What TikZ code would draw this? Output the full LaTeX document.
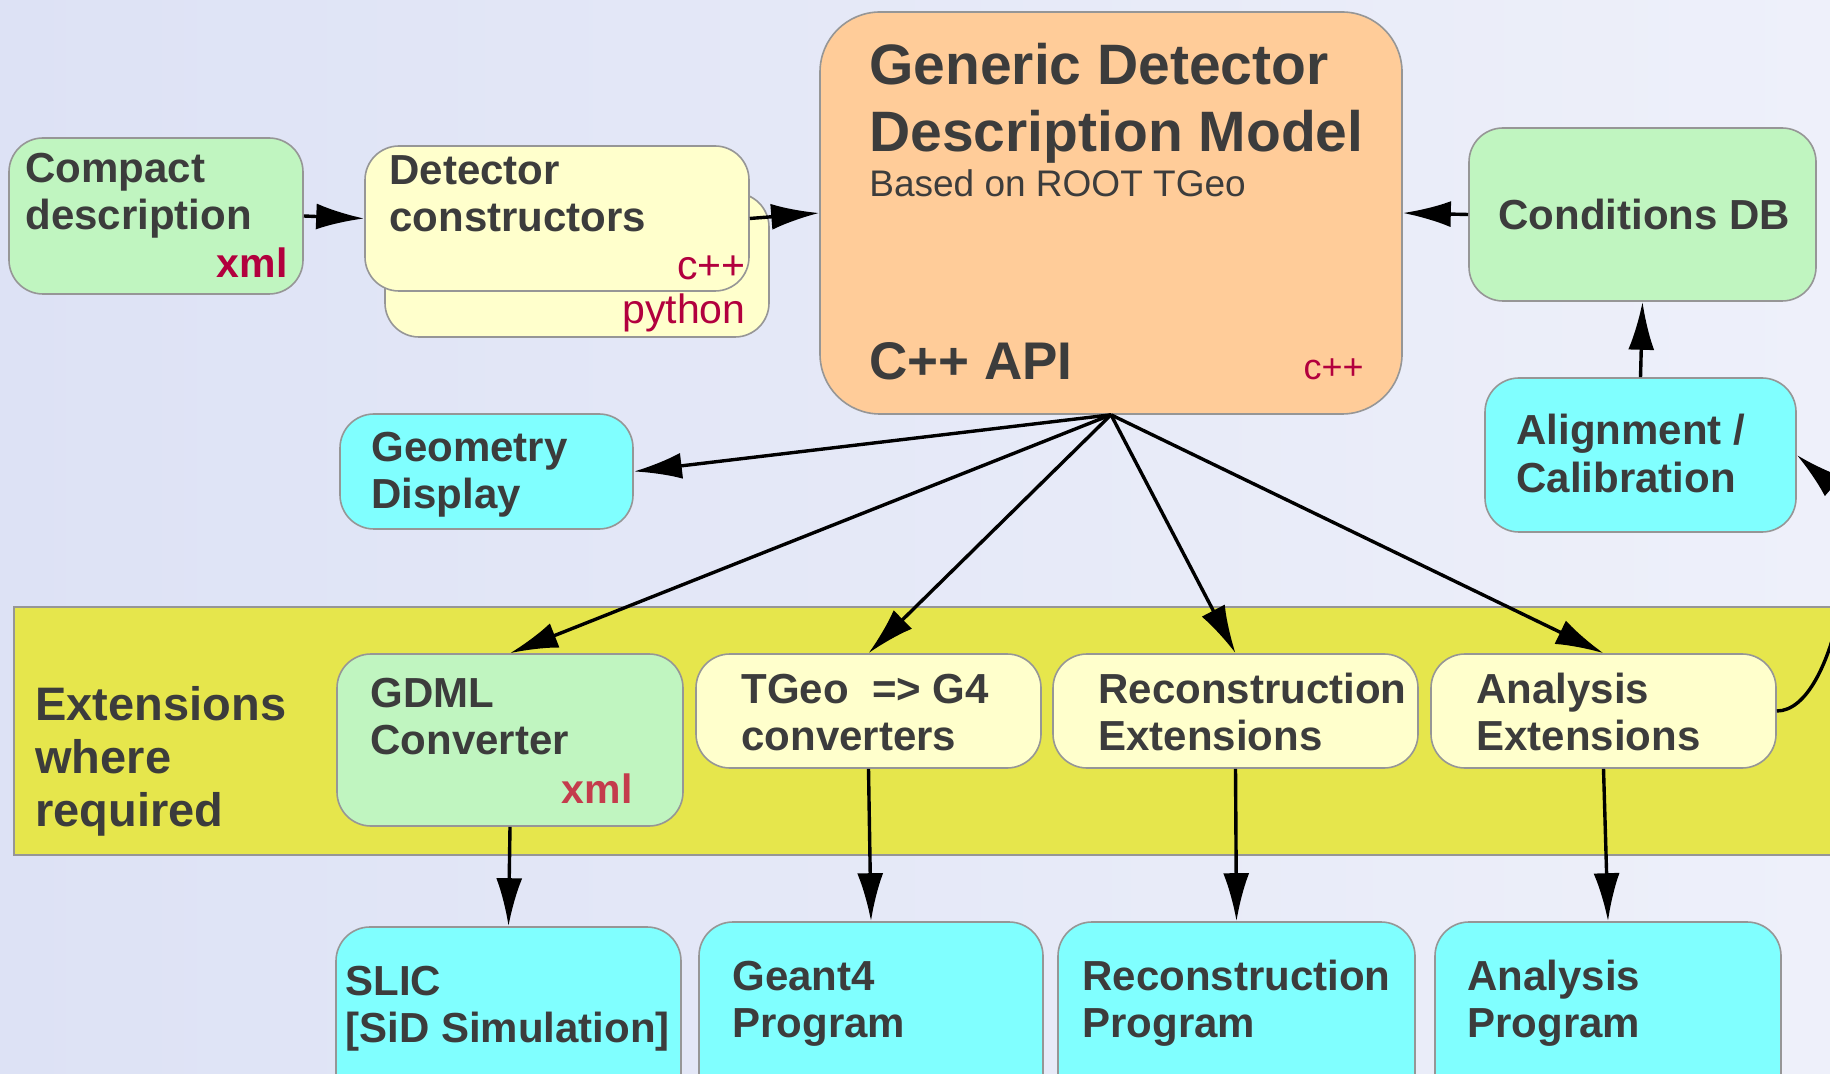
\documentclass[tikz,border=0pt]{standalone}
\usepackage{fontspec}
\setmainfont{Liberation Sans}
\usetikzlibrary{positioning,arrows.meta,fit}

\definecolor{bgleft}{RGB}{221,226,245}
\definecolor{bgright}{RGB}{238,240,250}
\definecolor{boxgreen}{RGB}{192,245,192}
\definecolor{boxyellow}{RGB}{255,255,204}
\definecolor{boxorange}{RGB}{255,204,153}
\definecolor{boxcyan}{RGB}{128,255,255}
\definecolor{band}{RGB}{230,230,76}
\definecolor{ink}{RGB}{60,60,60}
\definecolor{langred}{RGB}{178,0,62}
\definecolor{xmlred}{RGB}{196,60,76}
\definecolor{edge}{RGB}{150,150,150}

\begin{document}
\begin{tikzpicture}[
        x=0.5pt, y=-0.5pt,
        box/.style={rectangle, draw=edge, line width=0.8pt, rounded corners=17pt, inner sep=0pt},
        lbl/.style={anchor=base west, align=left, inner sep=0pt, text=ink, font=\fontsize{21}{23.5}\selectfont\bfseries},
        lang/.style={anchor=base east, inner sep=0pt, text=langred, font=\fontsize{20.5}{24}\selectfont},
        arrow/.style={-{Latex[length=24pt, width=13pt]}, line width=1.7pt}
    ]
        \useasboundingbox (0,0) rectangle (1830,1074);
        \shade[left color=bgleft, right color=bgright] (0,0) rectangle (1830,1074);

        % top row (label anchors sit on the last line)
        \node[box, fill=boxgreen, fit={(9,138) (303,294)}] (compact) {};
        \node[lbl] (compactlbl) at (25,230) {Compact\\description};
        \node[lang, font=\fontsize{20.5}{24}\selectfont\bfseries] (compactxml) at (288,278) {xml};

        \node[box, fill=boxyellow, fit={(385,193) (769,337)}] (detback) {};
        \node[lang] (detpython) at (746,324) {python};
        \node[box, fill=boxyellow, fit={(365,146) (749,291)}] (detfront) {};
        \node[lbl] (detlbl) at (389,232) {Detector\\constructors};
        \node[lang] (detcpp) at (746,280) {c++};

        \node[box, fill=boxorange, rounded corners=30pt, fit={(820,12) (1402,414)}] (gddm) {};
        \node[lbl, font=\fontsize{28.5}{33.5}\selectfont\bfseries] (gddmtitle) at (869,152) {Generic Detector\\Description Model};
        \node[lbl, font=\fontsize{18.5}{22}\selectfont] (gddmroot) at (869,197) {Based on ROOT TGeo};
        \node[lbl, font=\fontsize{26.5}{30}\selectfont\bfseries] (gddmapi) at (869,380) {C++ API};
        \node[lang, font=\fontsize{18}{22}\selectfont] (gddmcpp) at (1364,380) {c++};

        \node[box, fill=boxgreen, fit={(1469,128) (1816,301)}] (cond) {};
        \node[lbl] (condlbl) at (1498,230) {Conditions DB};

        \node[box, fill=boxcyan, fit={(1485,378) (1796,532)}] (align) {};
        \node[lbl, font=\fontsize{21}{24}\selectfont\bfseries] (alignlbl) at (1516,493) {Alignment /\\Calibration};

        \node[box, fill=boxcyan, fit={(340,414) (633,529)}] (geo) {};
        \node[lbl] (geolbl) at (371,509) {Geometry\\Display};

        % extensions band
        \node[rectangle, draw=edge, line width=0.8pt, fill=band, inner sep=0pt, fit={(14,607) (1850,855)}] (band) {};
        \node[lbl, font=\fontsize{23.5}{26.5}\selectfont\bfseries] (bandlbl) at (35,826) {Extensions\\where\\required};

        \node[box, fill=boxgreen, fit={(337,654) (683,826)}] (gdml) {};
        \node[lbl] (gdmllbl) at (370,754) {GDML\\Converter};
        \node[lang, text=xmlred, font=\fontsize{20.5}{24}\selectfont\bfseries] (gdmlxml) at (633,803) {xml};

        \node[box, fill=boxyellow, fit={(696,654) (1041,768)}] (tgeo) {};
        \node[lbl] (tgeolbl) at (741,750) {TGeo\ \ => G4\\converters};

        \node[box, fill=boxyellow, fit={(1053,654) (1418,768)}] (recoext) {};
        \node[lbl] (recoextlbl) at (1098,750) {Reconstruction\\Extensions};

        \node[box, fill=boxyellow, fit={(1431,654) (1776,768)}] (anaext) {};
        \node[lbl] (anaextlbl) at (1476,750) {Analysis\\Extensions};

        % programs
        \node[box, fill=boxcyan, fit={(336,927) (681,1130)}] (slic) {};
        \node[lbl] (sliclbl) at (345,1042) {SLIC\\{[SiD Simulation]}};

        \node[box, fill=boxcyan, fit={(699,922) (1043,1130)}] (geant) {};
        \node[lbl] (geantlbl) at (732,1037) {Geant4\\Program};

        \node[box, fill=boxcyan, fit={(1058,922) (1415,1130)}] (recoprog) {};
        \node[lbl] (recoproglbl) at (1082,1037) {Reconstruction\\Program};

        \node[box, fill=boxcyan, fit={(1435,922) (1781,1130)}] (anaprog) {};
        \node[lbl] (anaproglbl) at (1467,1037) {Analysis\\Program};

        % connectors
        \draw[arrow] (compact.east) -- (detfront.west);
        \draw[arrow] (detfront.east) -- (gddm.west);
        \draw[arrow] (cond.west) -- (gddm.east);
        \draw[arrow] (align.north) -- (cond.south);

        \draw[arrow] (gddm.south) -- (geo.east);
        \draw[arrow] (gddm.south) -- (gdml.north);
        \draw[arrow] (gddm.south) -- (tgeo.north);
        \draw[arrow] (gddm.south) -- (recoext.north);
        \draw[arrow] (gddm.south) -- (anaext.north);

        \draw[arrow] (gdml.south) -- (slic.north);
        \draw[arrow] (tgeo.south) -- (geant.north);
        \draw[arrow] (recoext.south) -- (recoprog.north);
        \draw[arrow] (anaext.south) -- (anaprog.north);

        \draw[arrow] (anaext.east) .. controls +(60,0) and +(70,60) .. (align.east);
    \end{tikzpicture}
\end{document}
